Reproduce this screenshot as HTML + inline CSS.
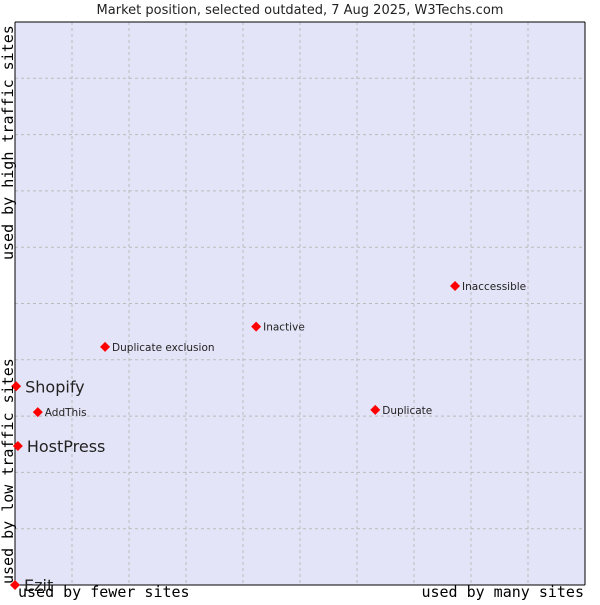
<!DOCTYPE html>
<html><head><meta charset="utf-8"><style>
body{margin:0;background:#fff;width:600px;height:600px;overflow:hidden}
svg text{font-family:"DejaVu Sans","Liberation Sans",sans-serif}
.mono{font-family:"DejaVu Sans Mono","Liberation Mono",monospace}
</style></head><body>
<svg id="chart" width="600" height="600">
<text x="300" y="14" text-anchor="middle" font-size="13" fill="#222">Market position, selected outdated, 7 Aug 2025, W3Techs.com</text>
<rect x="15" y="22" width="570" height="563" fill="#e4e4f8"/>
<g id="grid"></g>
<line x1="15" y1="22" x2="15" y2="585" stroke="#000"/>
<line x1="15" y1="585" x2="585" y2="585" stroke="#000"/>
<line x1="15" y1="22" x2="585" y2="22" stroke="#000"/>
<line x1="585" y1="22" x2="585" y2="585" stroke="#000"/>
<g id="points"></g>
<text class="mono" x="18" y="597" font-size="15" fill="#000">used by fewer sites</text>
<text class="mono" x="584" y="597" font-size="15" text-anchor="end" fill="#000">used by many sites</text>
<text class="mono" transform="translate(13,584) rotate(-90)" font-size="15" fill="#000">used by low traffic sites</text>
<text class="mono" transform="translate(13,260) rotate(-90)" font-size="15" fill="#000">used by high traffic sites</text>
</svg>
<script>
const names=["Shopify","AddThis","HostPress","Ezit","Duplicate exclusion","Inactive","Duplicate","Inaccessible"];
const xVals=[0.2,4.0,0.5,0,15.8,42.3,63.2,77.2];
const yVals=[35.3,30.7,24.7,0,42.3,45.9,31.1,53.1];
const bigLabel=[true,false,true,true,false,false,false,false];
const NS="http://www.w3.org/2000/svg";
const X0=15,X1=585,Y0=585,Y1=22;
const sx=v=>X0+v/100*(X1-X0);
const sy=v=>Y0-v/100*(Y0-Y1);
const grid=document.getElementById('grid');
for(let i=1;i<10;i++){
  const v=document.createElementNS(NS,'line');
  v.setAttribute('x1',sx(i*10));v.setAttribute('x2',sx(i*10));v.setAttribute('y1',Y1);v.setAttribute('y2',Y0);
  v.setAttribute('stroke','#bbb');v.setAttribute('stroke-dasharray','3,3');
  
  
  grid.appendChild(v);
  const h=document.createElementNS(NS,'line');
  h.setAttribute('y1',sy(i*10));h.setAttribute('y2',sy(i*10));h.setAttribute('x1',X0);h.setAttribute('x2',X1);
  h.setAttribute('stroke','#bbb');h.setAttribute('stroke-dasharray','3,3');
  
  
  grid.appendChild(h);
}
const pts=document.getElementById('points');
names.forEach((n,i)=>{
  const cx=sx(xVals[i]),cy=sy(yVals[i]);
  const d=document.createElementNS(NS,'path');
  d.setAttribute('d',`M${cx-5},${cy} L${cx},${cy-5} L${cx+5},${cy} L${cx},${cy+5} Z`);
  d.setAttribute('fill','#f00');
  
  
  pts.appendChild(d);
  const t=document.createElementNS(NS,'text');
  t.setAttribute('x',cx+(bigLabel[i]?9:7));
  t.setAttribute('y',cy+(bigLabel[i]?6:4));
  t.setAttribute('font-size',bigLabel[i]?16:10.5);
  t.setAttribute('fill','#222');
  t.textContent=n;
  
  
  pts.appendChild(t);
});
</script>
</body></html>
